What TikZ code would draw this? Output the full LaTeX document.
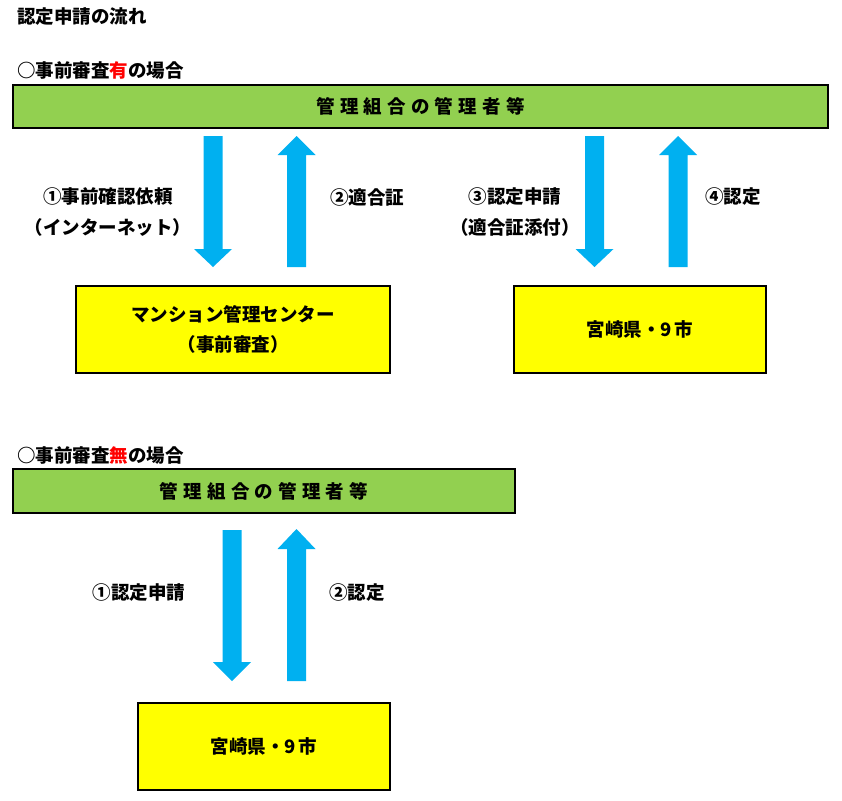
\documentclass[tikz,border=0pt]{standalone}
\usepackage{fontspec}
\setmainfont{Noto Sans CJK JP}
\definecolor{mgreen}{HTML}{92D050}
\definecolor{myellow}{HTML}{FFFF00}
\definecolor{mblue}{HTML}{00B0F0}
\definecolor{mred}{HTML}{FF0000}
\newcommand\dnarr[4]{\fill[arrowfill] (#1-9.5,#2) -- (#1+9.5,#2) -- (#1+9.5,#3) -- (#1+19,#3) -- (#1,#4) -- (#1-19,#3) -- (#1-9.5,#3) -- cycle;}
\newcommand\uparr[4]{\fill[arrowfill] (#1-9.5,#2) -- (#1+9.5,#2) -- (#1+9.5,#3) -- (#1+19,#3) -- (#1,#4) -- (#1-19,#3) -- (#1-9.5,#3) -- cycle;}
\newcommand\kanrisha{管\kern5.2pt 理\kern5.2pt 組\kern5.2pt 合\kern5.2pt の\kern5.2pt 管\kern5.2pt 理\kern5.2pt 者\kern5.2pt 等}
\begin{document}
\begin{tikzpicture}[x=1pt,y=-1pt,
  arrowfill/.style={fill=mblue},
  lbl/.style={font=\bfseries\fontsize{18.5}{31}\selectfont, inner sep=0pt, align=center},
  heading/.style={font=\bfseries\fontsize{18.5}{31}\selectfont, inner sep=0pt, anchor=west},
  greenbox/.style={draw=black, line width=1.8pt, fill=mgreen, inner sep=0pt, font=\bfseries\fontsize{18.5}{31}\selectfont},
  yellowbox/.style={draw=black, line width=1.3pt, fill=myellow, inner sep=0pt, align=center, font=\bfseries\fontsize{18.5}{30}\selectfont}]
\useasboundingbox (0,0) rectangle (842,800);
\fill[white] (0,0) rectangle (842,800);

\node[heading] (title) at (17,17) {認定申請の流れ};
\node[heading] (h1) at (17,70) {○事前審査{\color{mred}有}の場合};
\node[heading] (h2) at (17,455) {○事前審査{\color{mred}無}の場合};

% section 1
\node[greenbox, minimum width=815pt, minimum height=43pt] (g1) at (420.5,106.5) {\kanrisha};
\node[yellowbox, minimum width=314pt, minimum height=87pt] (mc) at (233,329.5) {マンション管理センター\\（事前審査）};
\node[yellowbox, minimum width=252pt, minimum height=87pt] (pref1) at (640,329.5) {宮崎県・9\kern3pt 市};

\dnarr{213}{136}{249}{267}
\uparr{296.5}{267}{155}{136}
\dnarr{594.5}{136}{249}{267}
\uparr{678}{267}{155}{136}

\node[lbl] (l1) at (108,212.5) {①事前確認依頼\\（インターネット）};
\node[lbl] (l2) at (367,197) {②適合証};
\node[lbl] (l3) at (515,212.5) {③認定申請\\（適合証添付）};
\node[lbl] (l4) at (733,197) {④認定};

% section 2
\node[greenbox, minimum width=502pt, minimum height=44pt] (g2) at (264,491) {\kanrisha};
\node[yellowbox, minimum width=252pt, minimum height=87pt] (pref2) at (264,746.5) {宮崎県・9\kern3pt 市};

\dnarr{232}{530}{662}{681}
\uparr{296.5}{681}{549}{529}

\node[lbl] (l5) at (139,593) {①認定申請};
\node[lbl] (l6) at (357,593) {②認定};
\end{tikzpicture}
\end{document}
